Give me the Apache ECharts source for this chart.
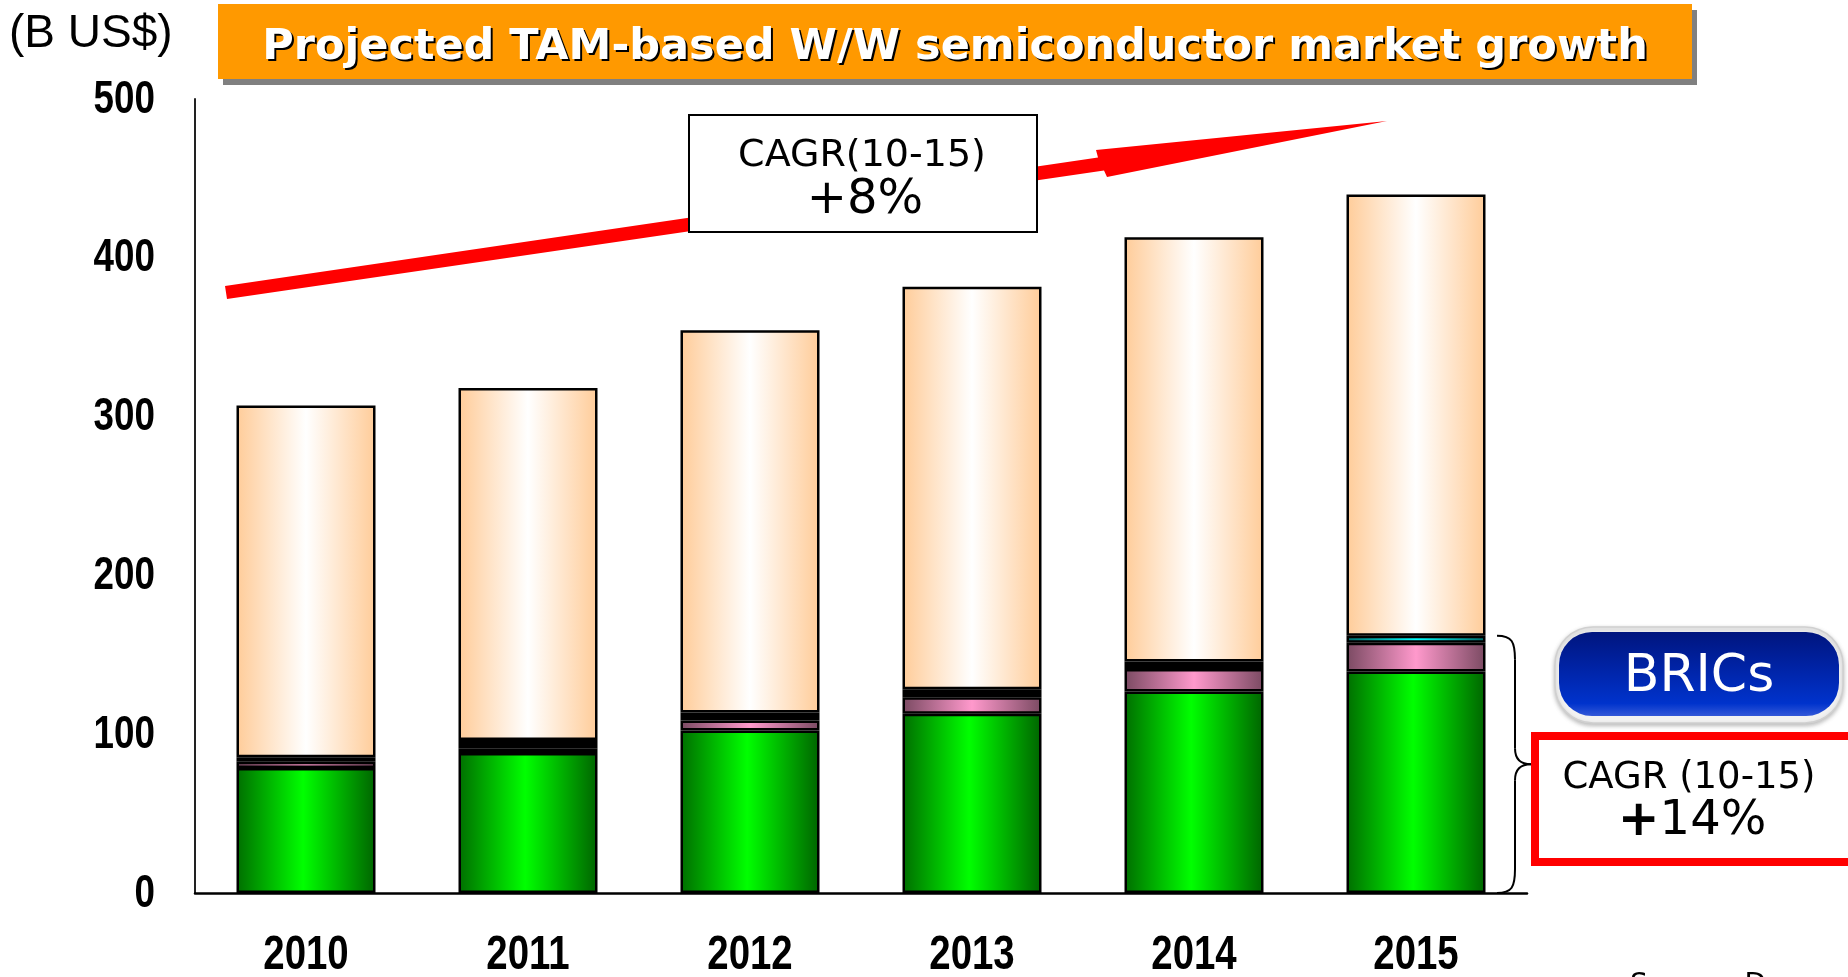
<!DOCTYPE html>
<html><head><meta charset="utf-8">
<script src="https://cdn.jsdelivr.net/npm/echarts@6/dist/echarts.min.js"></script>
<style>html,body{margin:0;padding:0;background:#fff;overflow:hidden}#c{width:1848px;height:977px}</style>
</head><body><div id="c"></div>
<script>
// ---- data ----
const years = ['2010', '2011', '2012', '2013', '2014', '2015'];
const yTicks = [0, 100, 200, 300, 400, 500];
const greenVals = [78.7, 88.1, 102.3, 112.8, 126.9, 139.5];   // bottom BRICs segment
const pinkVals  = [3.9, 3.1, 6.3, 10.5, 14.1, 18.1];          // second BRICs segment
const thinVals  = [2.9, 5.2, 5.0, 5.0, 4.8, 4.4];             // thin dark / cyan segment
const restVals  = [221.5, 221.6, 240.8, 253.4, 267.2, 277.8]; // rest of world (peach)
const titleText = 'Projected TAM-based W/W semiconductor market growth';
const unitText = '(B US$)';
const cagrTotal = ['CAGR(10-15)', '+8%'];
const cagrBrics = ['CAGR (10-15)', '+', '14%'];
const bricsLabel = 'BRICs';
const sourceText = 'Source: D';

const G = echarts.graphic;
function hGrad(edgeL, mid, edgeR, pos) {
  return new G.LinearGradient(0, 0, 1, 0, [
    {offset: 0, color: edgeL}, {offset: pos, color: mid}, {offset: 1, color: edgeR}
  ]);
}
const greenGrad = hGrad('#006e00', '#00ff00', '#006400', 0.48);
const pinkGrad  = hGrad('#7a4a62', '#ff99cc', '#7a4a62', 0.5);
const cyanGrad  = hGrad('#006a6a', '#00ffff', '#006a6a', 0.5);
const peachGrad = hGrad('#ffcc99', '#ffffff', '#ffcc99', 0.5);

const border = {borderColor: '#000', borderWidth: 2.5};
const barW = 139;

const chart = echarts.init(document.getElementById('c'), null, {renderer: 'canvas'});
const numFont = "'Liberation Sans', Arial, sans-serif";
const txtFont = "'DejaVu Sans', sans-serif";

chart.setOption({
  animation: false,
  backgroundColor: '#fff',
  grid: {left: 195, right: 321, top: 99, bottom: 84, containLabel: false},
  xAxis: {
    type: 'category', data: years,
    axisLine: {lineStyle: {color: '#000', width: 2.5}},
    axisTick: {inside: true, length: 15, lineStyle: {color: '#000', width: 2.5}},
    axisLabel: {show: false}
  },
  yAxis: {
    type: 'value', min: yTicks[0], max: yTicks[yTicks.length - 1], interval: yTicks[1] - yTicks[0],
    axisLine: {show: true, lineStyle: {color: '#222', width: 2}},
    axisTick: {show: false},
    splitLine: {show: false},
    axisLabel: {show: false}
  },
  series: [
    {name: 'BRICs (green)', type: 'bar', stack: 't', barWidth: barW, data: greenVals,
     itemStyle: Object.assign({color: greenGrad}, border)},
    {name: 'BRICs (pink)', type: 'bar', stack: 't', barWidth: barW, data: pinkVals,
     itemStyle: Object.assign({color: pinkGrad}, border)},
    {name: 'BRICs (thin)', type: 'bar', stack: 't', barWidth: barW,
     data: thinVals.map((v, i) => ({value: v, itemStyle: {color: i === thinVals.length - 1 ? cyanGrad : '#000'}})),
     itemStyle: Object.assign({color: '#000'}, border)},
    {name: 'Rest of world', type: 'bar', stack: 't', barWidth: barW, data: restVals,
     itemStyle: Object.assign({color: peachGrad}, border)}
  ]
});

// condensed bold tick labels placed through the axis scales
const els = [];
const y0 = chart.convertToPixel({yAxisIndex: 0}, 0);
yTicks.forEach(v => {
  const py = chart.convertToPixel({yAxisIndex: 0}, v);
  els.push({type: 'text', x: 155, y: py + 1, scaleX: 0.8,
    style: {text: String(v), fill: '#000', font: `bold 46px ${numFont}`, align: 'right', verticalAlign: 'middle'}});
});
years.forEach(c => {
  const px = chart.convertToPixel({xAxisIndex: 0}, c);
  els.push({type: 'text', x: px, y: y0 + 63, scaleX: 0.8,
    style: {text: c, fill: '#000', font: `bold 48px ${numFont}`, align: 'center', verticalAlign: 'middle'}});
});

// brace positions from the axis scale
const last = years.length - 1;
const bricsTop = greenVals[last] + pinkVals[last] + thinVals[last];
const yt = chart.convertToPixel({yAxisIndex: 0}, bricsTop);
const yb = y0;
const ym = (yt + yb) / 2;
const bx0 = 1497, bx1 = 1515, bx2 = 1531;
const braceStyle = {fill: null, stroke: '#000', lineWidth: 2};
els.push(
  {type: 'bezierCurve', z: 10, shape: {x1: bx0, y1: yt, cpx1: bx1 - 3, cpy1: yt, cpx2: bx1, cpy2: yt + 6, x2: bx1, y2: yt + 24}, style: braceStyle},
  {type: 'line', z: 10, shape: {x1: bx1, y1: yt + 24, x2: bx1, y2: ym - 16}, style: braceStyle},
  {type: 'bezierCurve', z: 10, shape: {x1: bx1, y1: ym - 16, cpx1: bx1, cpy1: ym - 5, cpx2: bx1 + 6, cpy2: ym, x2: bx2, y2: ym}, style: braceStyle},
  {type: 'bezierCurve', z: 10, shape: {x1: bx2, y1: ym, cpx1: bx1 + 6, cpy1: ym, cpx2: bx1, cpy2: ym + 5, x2: bx1, y2: ym + 16}, style: braceStyle},
  {type: 'line', z: 10, shape: {x1: bx1, y1: ym + 16, x2: bx1, y2: yb - 24}, style: braceStyle},
  {type: 'bezierCurve', z: 10, shape: {x1: bx1, y1: yb - 24, cpx1: bx1, cpy1: yb - 6, cpx2: bx1 - 3, cpy2: yb, x2: bx0, y2: yb}, style: braceStyle}
);

els.push(
  // unit
  {type: 'text', x: 9, y: 34, style: {text: unitText, fill: '#000', font: `46px ${numFont}`, align: 'left', verticalAlign: 'middle'}},
  // title banner
  {type: 'rect', shape: {x: 223, y: 10, width: 1474, height: 75}, style: {fill: '#808080'}},
  {type: 'rect', shape: {x: 218, y: 4, width: 1474, height: 75}, style: {fill: '#ff9900'}},
  {type: 'text', x: 957, y: 50, style: {text: titleText, fill: '#000', font: `bold 43px ${txtFont}`, align: 'center', verticalAlign: 'middle'}},
  {type: 'text', x: 955, y: 48, style: {text: titleText, fill: '#fff', font: `bold 43px ${txtFont}`, align: 'center', verticalAlign: 'middle'}},
  // red growth arrow
  {type: 'polygon', shape: {points: [[225, 286], [1098, 157.5], [1096, 150], [1387, 121], [1107, 177], [1104, 170.5], [227, 299]]},
   style: {fill: '#ff0000'}, z: 10},
  // total CAGR box
  {type: 'rect', shape: {x: 689, y: 115, width: 348, height: 117}, style: {fill: '#fff', stroke: '#000', lineWidth: 2}, z: 11},
  {type: 'text', x: 862, y: 156, z: 12, style: {text: cagrTotal[0], fill: '#000', font: `38px ${txtFont}`, align: 'center', verticalAlign: 'middle'}},
  {type: 'text', x: 865, y: 201, z: 12, style: {text: cagrTotal[1], fill: '#000', font: `48px ${txtFont}`, align: 'center', verticalAlign: 'middle'}},
  // BRICs pill
  {type: 'rect', shape: {x: 1555, y: 627, width: 288, height: 96, r: 38},
   style: {fill: '#f2f2f2', stroke: '#d0d0d0', lineWidth: 1.5, shadowBlur: 4, shadowColor: 'rgba(0,0,0,0.25)', shadowOffsetY: 2}, z: 10},
  {type: 'rect', shape: {x: 1559, y: 632, width: 280, height: 84, r: 33},
   style: {fill: new G.LinearGradient(0, 0, 0, 1, [
     {offset: 0, color: '#00157e'}, {offset: 0.45, color: '#0024a8'}, {offset: 0.85, color: '#0033cc'}, {offset: 1, color: '#3358d8'}])}, z: 11},
  {type: 'text', x: 1699, y: 677, z: 12, style: {text: bricsLabel, fill: '#fff', font: `52px ${txtFont}`, align: 'center', verticalAlign: 'middle'}},
  // BRICs CAGR box
  {type: 'rect', shape: {x: 1535, y: 736, width: 400, height: 126}, style: {fill: '#fff', stroke: '#ff0000', lineWidth: 8}, z: 10},
  {type: 'text', x: 1689, y: 778, z: 12, style: {text: cagrBrics[0], fill: '#000', font: `37px ${txtFont}`, align: 'center', verticalAlign: 'middle'}},
  {type: 'text', x: 1692, y: 822, z: 12, style: {
    text: `{p|${cagrBrics[1]}}{n|${cagrBrics[2]}}`, fill: '#000', align: 'center', verticalAlign: 'middle',
    rich: {p: {font: `bold 50px ${txtFont}`, fill: '#000'}, n: {font: `48px ${txtFont}`, fill: '#000'}}}},
  // source (cut at bottom edge)
  {type: 'text', x: 1630, y: 972, style: {text: sourceText, fill: '#000', font: `28px ${txtFont}`, align: 'left', verticalAlign: 'top'}}
);

chart.setOption({graphic: {elements: els}});
</script>
</body></html>
